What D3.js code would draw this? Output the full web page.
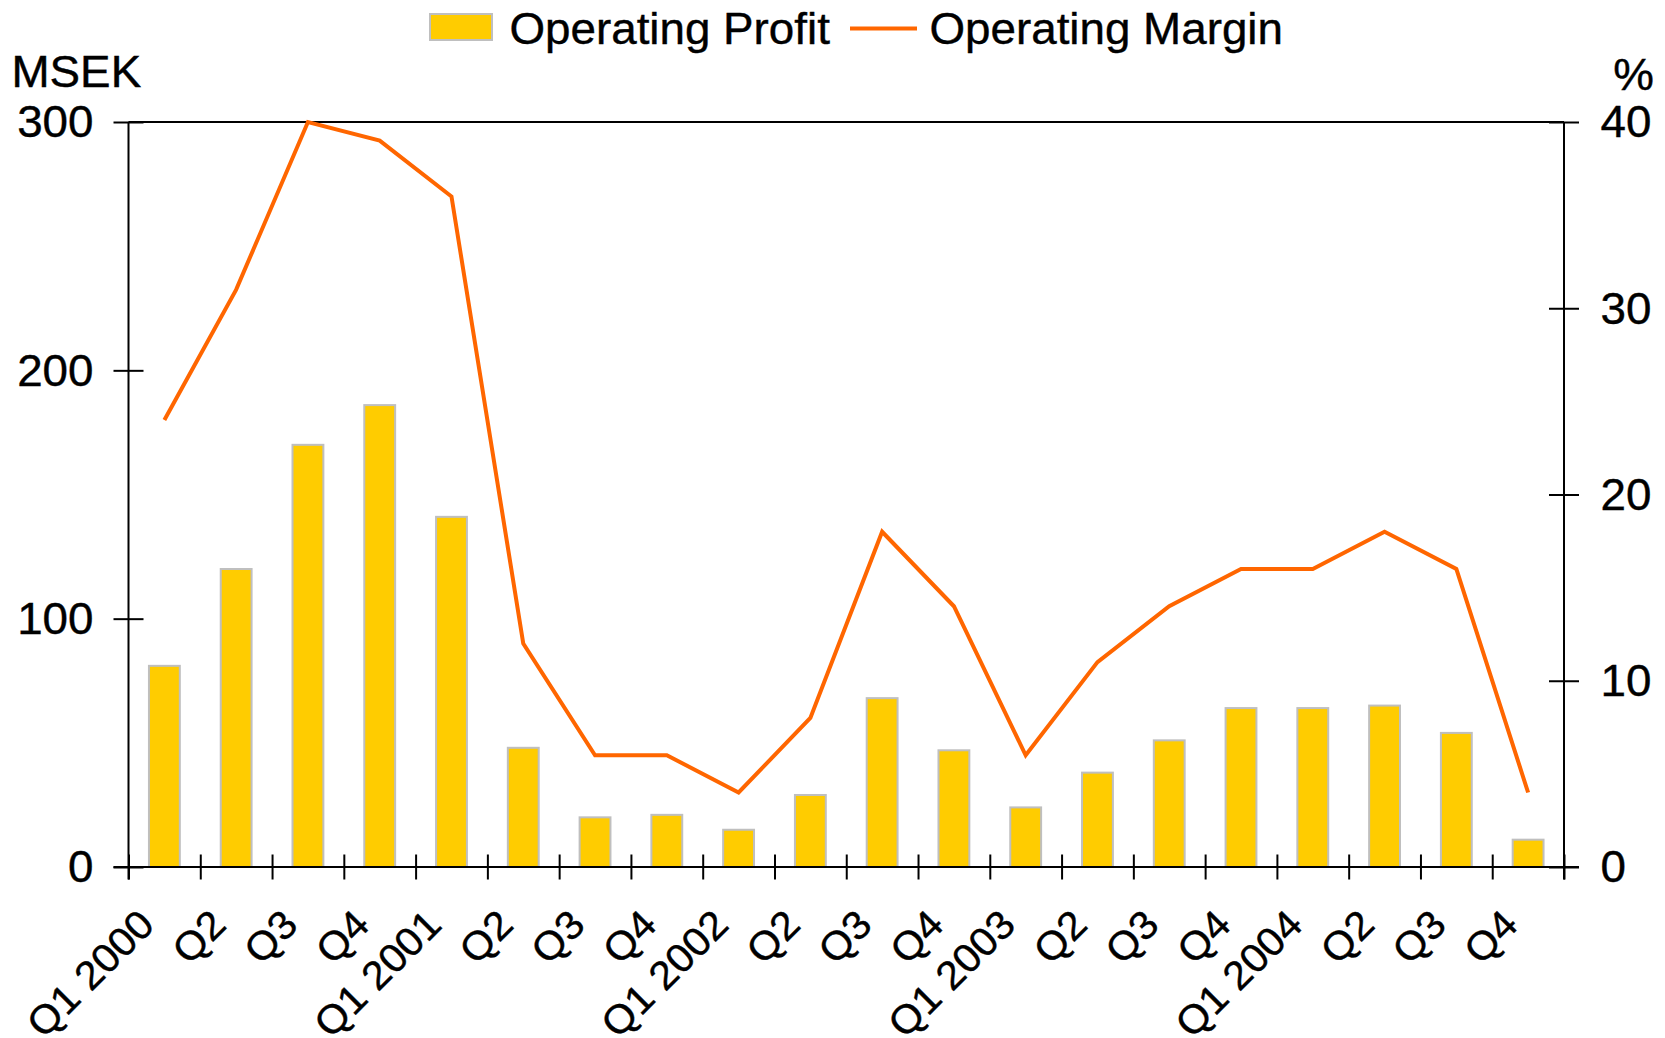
<!DOCTYPE html>
<html>
<head>
<meta charset="utf-8">
<script src="https://cdn.jsdelivr.net/npm/d3@7"></script>
<style>
  body { margin: 0; background: #fff; }
  svg { display: block; }
  text { font-family: "Liberation Sans", Arial, sans-serif; fill: #000; stroke: #000; stroke-width: 0.4px; }
  .domain { display: none; }
</style>
</head>
<body>
<svg class="chart"></svg>
<script>
// Chart data
var quarterLabels = ["Q1 2000", "Q2", "Q3", "Q4", "Q1 2001", "Q2", "Q3", "Q4",
                     "Q1 2002", "Q2", "Q3", "Q4", "Q1 2003", "Q2", "Q3", "Q4",
                     "Q1 2004", "Q2", "Q3", "Q4"];
var operatingProfit = [81, 120, 170, 186, 141, 48, 20, 21, 15, 29, 68, 47, 24, 38, 51, 64, 64, 65, 54, 11];
var operatingMargin = [24, 31, 40, 39, 36, 12, 6, 6, 4, 8, 18, 14, 6, 11, 14, 16, 16, 18, 16, 4];
var leftTicks = [0, 100, 200, 300];
var rightTicks = [0, 10, 20, 30, 40];

// Canvas and plot area
var imageWidth = 1665;
var imageHeight = 1038;
var plotLeft = 128.5;
var plotRight = 1564;
var plotTop = 122;
var plotBottom = 867;

var fontSize = 44;
var labelFontSize = 40;
var stretch = 1.04;   // text in the reference is a little wider than Arial

var barColor = "#FFCC00";
var barBorder = "#BFBFBF";
var lineColor = "#FF6600";

var canvas = d3.select(".chart")
    .attr("width", imageWidth)
    .attr("height", imageHeight);

// Scales
var xScale = d3.scaleBand()
    .domain(d3.range(quarterLabels.length))
    .range([plotLeft, plotRight])
    .paddingInner(0)
    .paddingOuter(0);

// linear version for ticks on the band edges
var xEdge = d3.scaleLinear()
    .domain([0, quarterLabels.length])
    .range([plotLeft, plotRight]);

var yLeft = d3.scaleLinear().domain([0, 300]).range([plotBottom, plotTop]);
var yRight = d3.scaleLinear().domain([0, 40]).range([plotBottom, plotTop]);

// Helper to place (slightly stretched) text
function addText(parent, x, y, str, anchor, rotate, size) {
    var t = "translate(" + x + "," + y + ")";
    if (rotate) t += " rotate(" + rotate + ")";
    t += " scale(" + stretch + ",1)";
    return parent.append("text")
        .attr("transform", t)
        .attr("text-anchor", anchor || "start")
        .style("font-size", (size || fontSize) + "px")
        .text(str);
}

// Bars
var barWidth = xScale.bandwidth() * 0.43;
canvas.append("g").selectAll("rect")
    .data(operatingProfit)
    .enter().append("rect")
    .attr("x", function(d, i) { return xScale(i) + (xScale.bandwidth() - barWidth) / 2; })
    .attr("y", function(d) { return yLeft(d); })
    .attr("width", barWidth)
    .attr("height", function(d) { return plotBottom - yLeft(d); })
    .attr("fill", barColor)
    .attr("stroke", barBorder)
    .attr("stroke-width", 2);

// Top border of plot
canvas.append("line")
    .attr("x1", plotLeft).attr("x2", plotRight)
    .attr("y1", plotTop).attr("y2", plotTop)
    .attr("stroke", "#000").attr("stroke-width", 2);

// Left axis with crossing ticks
var leftAxis = canvas.append("g")
    .attr("transform", "translate(" + plotLeft + ",0)")
    .call(d3.axisLeft(yLeft).tickValues(leftTicks).tickSize(15).tickFormat(""));
leftAxis.selectAll(".tick line").attr("x1", 15).attr("x2", -15).attr("stroke-width", 2);
leftAxis.append("line")
    .attr("y1", plotTop).attr("y2", plotBottom + 12.5)
    .attr("stroke", "#000").attr("stroke-width", 2);
leftTicks.forEach(function(v) {
    addText(canvas, plotLeft - 35, yLeft(v), v, "end").attr("dy", "0.35em");
});

// Right axis with crossing ticks
var rightAxis = canvas.append("g")
    .attr("transform", "translate(" + plotRight + ",0)")
    .call(d3.axisRight(yRight).tickValues(rightTicks).tickSize(15).tickFormat(""));
rightAxis.selectAll(".tick line").attr("x1", -15).attr("x2", 15).attr("stroke-width", 2);
rightAxis.append("line")
    .attr("y1", plotTop).attr("y2", plotBottom + 12.5)
    .attr("stroke", "#000").attr("stroke-width", 2);
rightTicks.forEach(function(v) {
    addText(canvas, plotRight + 36.5, yRight(v), v, "start").attr("dy", "0.35em");
});

// Bottom axis, ticks on the quarter boundaries
var bottomAxis = canvas.append("g")
    .attr("transform", "translate(0," + plotBottom + ")")
    .call(d3.axisBottom(xEdge).tickValues(d3.range(quarterLabels.length + 1)).tickSize(12.5).tickFormat(""));
bottomAxis.selectAll(".tick line").attr("y1", -12.5).attr("y2", 12.5).attr("stroke-width", 2);
bottomAxis.append("line")
    .attr("x1", plotLeft - 15).attr("x2", plotRight + 15)
    .attr("stroke", "#000").attr("stroke-width", 2);

// Rotated quarter labels
quarterLabels.forEach(function(label, i) {
    var cx = xScale(i) + xScale.bandwidth() / 2;
    addText(canvas, cx - 8, 927, label, "end", -45, labelFontSize);
});

// Operating margin line
var marginLine = d3.line()
    .x(function(d, i) { return xScale(i) + xScale.bandwidth() / 2; })
    .y(function(d) { return yRight(d); });

canvas.append("path")
    .datum(operatingMargin)
    .attr("d", marginLine)
    .attr("fill", "none")
    .attr("stroke", lineColor)
    .attr("stroke-width", 4);

// Axis unit labels
addText(canvas, 11.5, 87, "MSEK", "start");
addText(canvas, 1654, 90, "%", "end");

// Legend
canvas.append("rect")
    .attr("x", 430).attr("y", 14)
    .attr("width", 62).attr("height", 26)
    .attr("fill", barColor)
    .attr("stroke", barBorder)
    .attr("stroke-width", 2);
addText(canvas, 509.5, 44, "Operating Profit", "start");

canvas.append("line")
    .attr("x1", 850).attr("x2", 917)
    .attr("y1", 28.5).attr("y2", 28.5)
    .attr("stroke", lineColor)
    .attr("stroke-width", 4);
addText(canvas, 929.5, 44, "Operating Margin", "start");
</script>
</body>
</html>
